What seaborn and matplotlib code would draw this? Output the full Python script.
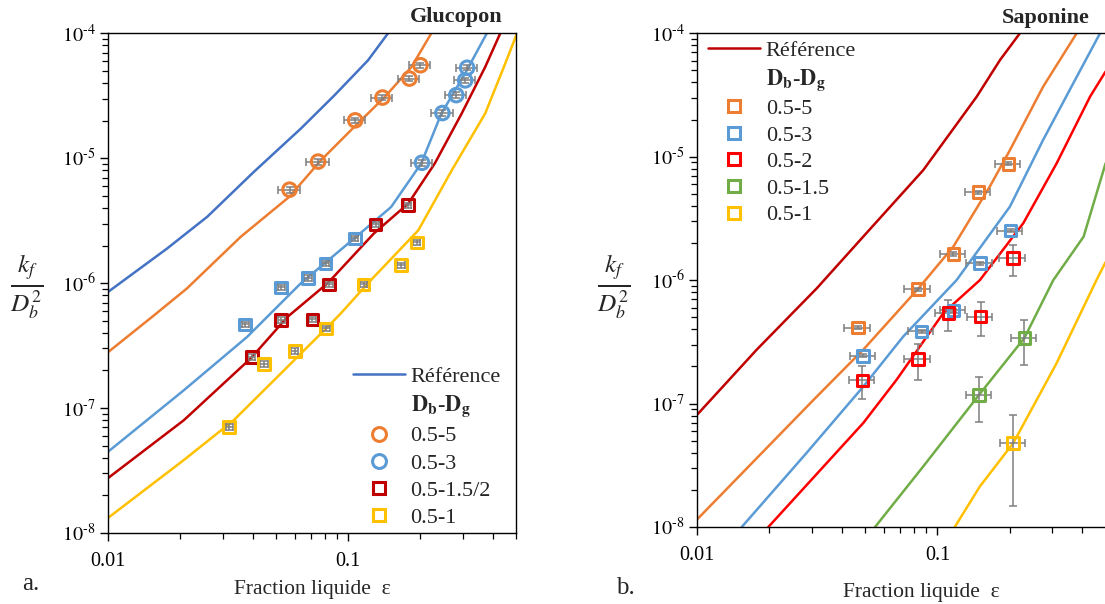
import numpy as np
import pandas as pd
import matplotlib
matplotlib.use("Agg")
import matplotlib.pyplot as plt
from matplotlib.lines import Line2D
from matplotlib.ticker import FixedLocator, LogLocator, NullFormatter
import seaborn as sns

# ---- Glucopon (a.) : model curves ----
glu_ref_x = [0.01, 0.0176, 0.0259, 0.0405, 0.0636, 0.0877, 0.121, 0.1466]
glu_ref_y = [8.5e-7, 1.89e-6, 3.4e-6, 7.78e-6, 1.73e-5, 3.19e-5, 6.08e-5, 1e-4]
glu_c5_x = [0.01, 0.0155, 0.0213, 0.0357, 0.0568, 0.0771, 0.106, 0.142, 0.1834, 0.222]
glu_c5_y = [2.8e-7, 5.5e-7, 9.06e-7, 2.35e-6, 4.9e-6, 9.64e-6, 1.78e-5, 3.09e-5, 5.37e-5, 1e-4]
glu_c3_x = [0.01, 0.0207, 0.038, 0.0636, 0.106, 0.151, 0.2016, 0.2445, 0.3067, 0.378]
glu_c3_y = [4.47e-8, 1.39e-7, 3.72e-7, 1.0e-6, 2.28e-6, 4.07e-6, 9.1e-6, 2.28e-5, 4.76e-5, 1e-4]
glu_c15_x = [0.01, 0.0207, 0.0393, 0.0559, 0.0822, 0.128, 0.178, 0.2296, 0.297, 0.372, 0.43]
glu_c15_y = [2.75e-8, 8.0e-8, 2.5e-7, 5.37e-7, 1.0e-6, 2.5e-6, 4.34e-6, 9.1e-6, 2.28e-5, 5.37e-5, 1e-4]
glu_c1_x = [0.01, 0.0207, 0.0334, 0.0508, 0.0822, 0.0935, 0.121, 0.196, 0.27, 0.372, 0.451, 0.505]
glu_c1_y = [1.32e-8, 3.84e-8, 8.0e-8, 1.78e-7, 4.47e-7, 5.76e-7, 1.0e-6, 2.65e-6, 8.0e-6, 2.28e-5, 5.73e-5, 1e-4]

# ---- Glucopon (a.) : measurements ----
glu_p5_x = [0.057, 0.075, 0.107, 0.139, 0.180, 0.200]
glu_p5_y = [5.6e-6, 9.4e-6, 2.01e-5, 3.06e-5, 4.34e-5, 5.55e-5]
glu_p5_xerr = [0.006, 0.008, 0.011, 0.014, 0.018, 0.020]
glu_p5_yerr = [0.3e-6, 0.5e-6, 1.0e-6, 1.5e-6, 2.2e-6, 2.8e-6]
glu_p3_x = [0.203, 0.247, 0.282, 0.307, 0.313]
glu_p3_y = [9.2e-6, 2.3e-5, 3.2e-5, 4.2e-5, 5.3e-5]
glu_p3_xerr = [0.020, 0.025, 0.028, 0.031, 0.031]
glu_p3_yerr = [0.5e-6, 1.2e-6, 1.6e-6, 2.1e-6, 2.6e-6]
glu_s3_x = [0.0373, 0.0526, 0.068, 0.0806, 0.1066]
glu_s3_y = [4.67e-7, 9.25e-7, 1.10e-6, 1.44e-6, 2.28e-6]
glu_s3_xerr = [0.0013, 0.0018, 0.0024, 0.0028, 0.0037]
glu_s3_yerr = [2.3e-8, 4.6e-8, 5.5e-8, 7.2e-8, 1.1e-7]
glu_s15_x = [0.0397, 0.0526, 0.071, 0.0832, 0.130, 0.177]
glu_s15_y = [2.57e-7, 5.06e-7, 5.13e-7, 9.77e-7, 2.95e-6, 4.2e-6]
glu_s15_xerr = [0.0014, 0.0018, 0.0025, 0.0029, 0.0045, 0.0062]
glu_s15_yerr = [1.3e-8, 2.5e-8, 2.6e-8, 4.9e-8, 1.5e-7, 2.1e-7]
glu_s1_x = [0.032, 0.0447, 0.060, 0.081, 0.116, 0.166, 0.193]
glu_s1_y = [7.08e-8, 2.25e-7, 2.86e-7, 4.34e-7, 9.77e-7, 1.39e-6, 2.12e-6]
glu_s1_xerr = [0.0011, 0.0016, 0.0021, 0.0028, 0.0041, 0.0058, 0.0068]
glu_s1_yerr = [3.5e-9, 1.1e-8, 1.4e-8, 2.2e-8, 4.9e-8, 7e-8, 1.1e-7]

# ---- Saponine (b.) : model curves ----
sap_ref_x = [0.01, 0.0177, 0.0315, 0.0491, 0.0873, 0.1456, 0.182, 0.220]
sap_ref_y = [8.1e-8, 2.73e-7, 8.6e-7, 2.25e-6, 7.8e-6, 3.07e-5, 6.08e-5, 1e-4]
sap_c5_x = [0.01, 0.0305, 0.0491, 0.0828, 0.1164, 0.165, 0.2, 0.275, 0.379]
sap_c5_y = [1.15e-8, 1.07e-7, 2.73e-7, 8.45e-7, 1.87e-6, 5.73e-6, 1.13e-5, 3.7e-5, 1e-4]
sap_c3_x = [0.01535, 0.0286, 0.0491, 0.072, 0.120, 0.2, 0.275, 0.367, 0.474]
sap_c3_y = [1e-8, 4.0e-8, 1.37e-7, 3.49e-7, 1.0e-6, 3.94e-6, 1.37e-5, 3.94e-5, 1e-4]
sap_c2_x = [0.0198, 0.0491, 0.0676, 0.1057, 0.150, 0.2275, 0.313, 0.431, 0.5]
sap_c2_y = [1e-8, 6.95e-8, 1.56e-7, 5.41e-7, 1.0e-6, 2.9e-6, 8.85e-6, 3.07e-5, 4.9e-5]
sap_c15_x = [0.055, 0.0873, 0.149, 0.2296, 0.303, 0.405, 0.5]
sap_c15_y = [1e-8, 3.1e-8, 1.18e-7, 3.39e-7, 1.0e-6, 2.25e-6, 8.85e-6]
sap_c1_x = [0.118, 0.150, 0.2066, 0.313, 0.458, 0.5]
sap_c1_y = [1e-8, 2.13e-8, 4.79e-8, 2.13e-7, 1.0e-6, 1.4e-6]

# ---- Saponine (b.) : measurements ----
sap_s5_x = [0.0466, 0.0828, 0.1164, 0.148, 0.197]
sap_s5_y = [4.13e-7, 8.45e-7, 1.63e-6, 5.15e-6, 8.75e-6]
sap_s5_xerr = [0.0056, 0.0099, 0.014, 0.018, 0.024]
sap_s5_yerr = [1.2e-8, 2.5e-8, 5e-8, 1.5e-7, 2.6e-7]
sap_s3_x = [0.0491, 0.0859, 0.1164, 0.150, 0.2015]
sap_s3_y = [2.44e-7, 3.84e-7, 5.68e-7, 1.37e-6, 2.52e-6]
sap_s3_xerr = [0.0059, 0.0103, 0.014, 0.018, 0.024]
sap_s3_yerr = [7e-9, 1.2e-8, 1.7e-8, 4e-8, 7.5e-8]
sap_s2_x = [0.0487, 0.0828, 0.111, 0.151, 0.2055]
sap_s2_y = [1.54e-7, 2.29e-7, 5.41e-7, 5.07e-7, 1.51e-6]
sap_s2_xerr = [0.0058, 0.0099, 0.013, 0.018, 0.025]
sap_s2_yerr = [4.6e-8, 7.3e-8, 1.55e-7, 1.55e-7, 4.3e-7]
sap_s15_x = [0.149, 0.2296]
sap_s15_y = [1.18e-7, 3.39e-7]
sap_s15_xerr = [0.018, 0.028]
sap_s15_yerr = [4.7e-8, 1.33e-7]
sap_s1_x = [0.2066]
sap_s1_y = [4.79e-8]
sap_s1_xerr = [0.025]
sap_s1_yerr = [3.3e-8]

# tick labels
x_ticks = [0.01, 0.1]
x_labels = ['0.01', '0.1']
y_ticks = [1e-8, 1e-7, 1e-6, 1e-5, 1e-4]
y_labels = [r'$10^{\text{-}8}$', r'$10^{\text{-}7}$', r'$10^{\text{-}6}$',
            r'$10^{\text{-}5}$', r'$10^{\text{-}4}$']

# Excel-like colours
c_navy = "#4472C4"
c_orange = "#ED7D31"
c_blue = "#5B9BD5"
c_dred = "#C00000"
c_red = "#FF0000"
c_green = "#70AD47"
c_yellow = "#FFC000"
c_err = "#7F7F7F"

sns.set_theme(style="ticks")
plt.rcParams['font.family'] = ['Liberation Serif', 'DejaVu Serif']
plt.rcParams['mathtext.fontset'] = 'stix'
plt.rcParams['axes.edgecolor'] = 'black'
plt.rcParams['axes.linewidth'] = 1.0

fig = plt.figure(figsize=(11.05, 6.04), dpi=100)
ax1 = fig.add_axes([108 / 1105, 1 - 533 / 604, 408 / 1105, 499.7 / 604])
ax2 = fig.add_axes([697 / 1105, 1 - 527 / 604, 408.6 / 1105, 493.7 / 604])


def curve(ax, xs, ys, color):
    df = pd.DataFrame({'x': xs, 'y': ys})
    sns.lineplot(data=df, x='x', y='y', ax=ax, color=color, lw=1.8,
                 estimator=None, sort=False, legend=False, zorder=2)


def points(ax, xs, ys, xerr, yerr, color, marker, size):
    ax.errorbar(xs, ys, xerr=xerr, yerr=yerr, fmt='none', ecolor=c_err,
                elinewidth=1.1, capsize=3, capthick=1.1, zorder=3)
    df = pd.DataFrame({'x': xs, 'y': ys})
    sns.scatterplot(data=df, x='x', y='y', ax=ax, marker=marker, s=size,
                    facecolor='none', edgecolor=color, linewidth=2.2,
                    legend=False, zorder=4)


# panel a: Glucopon
curve(ax1, glu_ref_x, glu_ref_y, c_navy)
curve(ax1, glu_c5_x, glu_c5_y, c_orange)
curve(ax1, glu_c3_x, glu_c3_y, c_blue)
curve(ax1, glu_c15_x, glu_c15_y, c_dred)
curve(ax1, glu_c1_x, glu_c1_y, c_yellow)
points(ax1, glu_p5_x, glu_p5_y, glu_p5_xerr, glu_p5_yerr, c_orange, 'o', 95)
points(ax1, glu_p3_x, glu_p3_y, glu_p3_xerr, glu_p3_yerr, c_blue, 'o', 95)
points(ax1, glu_s3_x, glu_s3_y, glu_s3_xerr, glu_s3_yerr, c_blue, 's', 70)
points(ax1, glu_s15_x, glu_s15_y, glu_s15_xerr, glu_s15_yerr, c_dred, 's', 70)
points(ax1, glu_s1_x, glu_s1_y, glu_s1_xerr, glu_s1_yerr, c_yellow, 's', 70)

# panel b: Saponine
curve(ax2, sap_ref_x, sap_ref_y, c_dred)
curve(ax2, sap_c5_x, sap_c5_y, c_orange)
curve(ax2, sap_c3_x, sap_c3_y, c_blue)
curve(ax2, sap_c2_x, sap_c2_y, c_red)
curve(ax2, sap_c15_x, sap_c15_y, c_green)
curve(ax2, sap_c1_x, sap_c1_y, c_yellow)
points(ax2, sap_s5_x, sap_s5_y, sap_s5_xerr, sap_s5_yerr, c_orange, 's', 70)
points(ax2, sap_s3_x, sap_s3_y, sap_s3_xerr, sap_s3_yerr, c_blue, 's', 70)
points(ax2, sap_s2_x, sap_s2_y, sap_s2_xerr, sap_s2_yerr, c_red, 's', 70)
points(ax2, sap_s15_x, sap_s15_y, sap_s15_xerr, sap_s15_yerr, c_green, 's', 70)
points(ax2, sap_s1_x, sap_s1_y, sap_s1_xerr, sap_s1_yerr, c_yellow, 's', 70)

# axes, ticks
for ax in (ax1, ax2):
    ax.set_xscale('log')
    ax.set_yscale('log')
    ax.set_xlim(0.01, 0.5)
    ax.set_ylim(1e-8, 1e-4)
    ax.xaxis.set_major_locator(FixedLocator(x_ticks))
    ax.set_xticklabels(x_labels)
    ax.xaxis.set_minor_locator(LogLocator(base=10, subs=np.arange(2, 10)))
    ax.xaxis.set_minor_formatter(NullFormatter())
    ax.yaxis.set_major_locator(FixedLocator(y_ticks))
    ax.set_yticklabels(y_labels)
    ax.yaxis.set_minor_locator(LogLocator(base=10, subs=np.arange(2, 10)))
    ax.yaxis.set_minor_formatter(NullFormatter())
    ax.tick_params(which='major', direction='out', length=6, width=1, labelsize=14.5,
                   color='black', labelcolor='black', pad=3)
    ax.tick_params(axis='x', which='major', pad=8)
    ax.tick_params(which='minor', direction='out', length=4, width=0.9, color='black')
    ax.set_ylabel('')
    ax.set_xlabel('Fraction liquide  ε', fontsize=15.5)
    for sp in ax.spines.values():
        sp.set_color('black')

ax1.xaxis.set_label_coords(0.5, -0.095)
ax2.xaxis.set_label_coords(0.548, -0.113)

ax1.text(0.966, 1.032, 'Glucopon', transform=ax1.transAxes, ha='right', va='center',
         fontsize=16, fontweight='bold')
ax2.text(0.962, 1.031, 'Saponine', transform=ax2.transAxes, ha='right', va='center',
         fontsize=16, fontweight='bold')

fig.text(27 / 1105, 1 - 287 / 604, r'$\frac{k_f}{D_b^2}$', fontsize=26, ha='center', va='center')
fig.text(614 / 1105, 1 - 287 / 604, r'$\frac{k_f}{D_b^2}$', fontsize=26, ha='center', va='center')
fig.text(31 / 1105, 1 - 584 / 604, 'a.', fontsize=18, ha='center', va='center')
fig.text(625 / 1105, 1 - 588 / 604, 'b.', fontsize=18, ha='center', va='center')

# legends
header = r'$\mathbf{D_b}$-$\mathbf{D_g}$'
blank = Line2D([], [], linestyle='none', marker='none')


def mk(color, marker, ms):
    return Line2D([], [], linestyle='none', marker=marker, markersize=ms,
                  markerfacecolor='none', markeredgecolor=color, markeredgewidth=2.2)


h1 = [Line2D([], [], color=c_navy, lw=1.8), blank,
      mk(c_orange, 'o', 10), mk(c_blue, 'o', 10), mk(c_dred, 's', 9), mk(c_yellow, 's', 9)]
l1 = ['Référence', header, '0.5-5', '0.5-3', '0.5-1.5/2', '0.5-1']
ax1.legend(h1, l1, loc='lower left', bbox_to_anchor=(0.60, 0.01), frameon=False,
           fontsize=16, handlelength=2.35, handletextpad=0.25, labelspacing=0.3,
           borderpad=0, borderaxespad=0, numpoints=1)

h2 = [Line2D([], [], color=c_dred, lw=1.8), blank,
      mk(c_orange, 's', 9), mk(c_blue, 's', 9), mk(c_red, 's', 9), mk(c_green, 's', 9),
      mk(c_yellow, 's', 9)]
l2 = ['Référence', header, '0.5-5', '0.5-3', '0.5-2', '0.5-1.5', '0.5-1']
ax2.legend(h2, l2, loc='upper left', bbox_to_anchor=(0.027, 0.986), frameon=False,
           fontsize=16, handlelength=2.35, handletextpad=0.25, labelspacing=0.27,
           borderpad=0, borderaxespad=0, numpoints=1)

fig.savefig('out.png', dpi=100)
